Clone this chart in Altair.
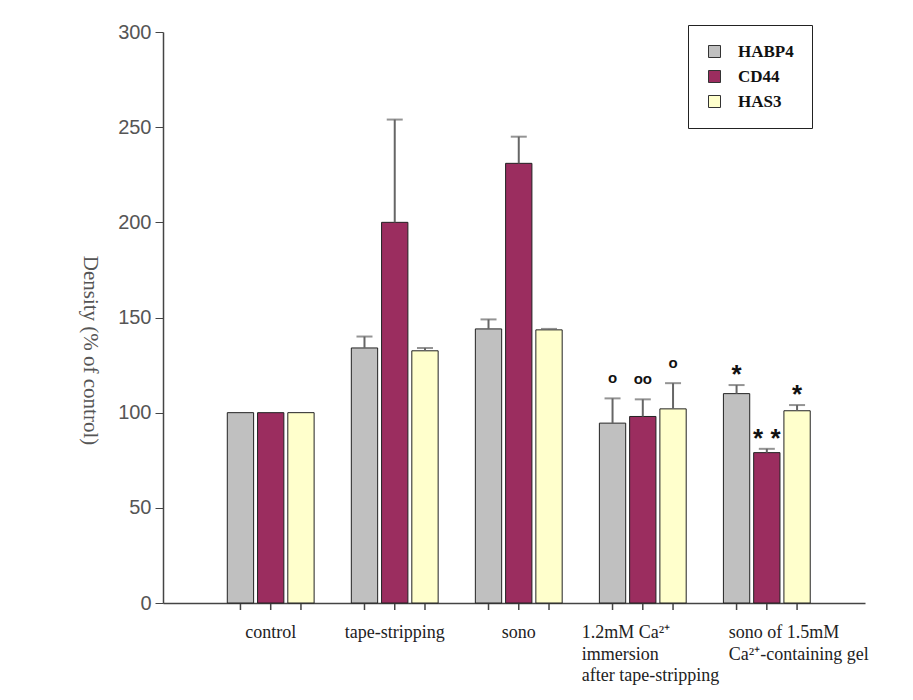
import altair as alt
import pandas as pd

groups = ["control", "tape-stripping", "sono", "1.2mM Ca", "sono 1.5mM"]
group_labels = [
    "control",
    "tape-stripping",
    "sono",
    "1.2mM Ca²⁺\nimmersion\nafter tape-stripping",
    "sono of 1.5mM\n Ca²⁺-containing gel",
]
series = ["HABP4", "CD44", "HAS3"]
colors = ["#c0c0c0", "#9b2d5f", "#ffffcc"]

habp4 = [100, 134, 144, 94.5, 110]
habp4_err = [0, 6, 5, 13, 4.5]
cd44 = [100, 200, 231, 98, 79]
cd44_err = [0, 54, 14, 9, 2]
has3 = [100, 132.5, 143.5, 102, 101]
has3_err = [0, 1.5, 0.5, 13.5, 3]

marks_12 = ["o", "oo", "o"]
marks_15 = ["*", "* *", "*"]

rows = []
for vals, errs, s in [(habp4, habp4_err, "HABP4"), (cd44, cd44_err, "CD44"), (has3, has3_err, "HAS3")]:
    for g, v, e in zip(groups, vals, errs):
        rows.append({"group": g, "series": s, "value": v, "err": e, "upper": v + e})
df = pd.DataFrame(rows)

ann_rows = []
for s, m in zip(series, marks_12):
    r = df[(df.group == "1.2mM Ca") & (df.series == s)].iloc[0]
    ann_rows.append({"group": "1.2mM Ca", "series": s, "upper": r.upper, "mark": m, "kind": "o"})
for s, m in zip(series, marks_15):
    r = df[(df.group == "sono 1.5mM") & (df.series == s)].iloc[0]
    ann_rows.append({"group": "sono 1.5mM", "series": s, "upper": r.upper, "mark": m, "kind": "star"})
ann = pd.DataFrame(ann_rows)

lab = pd.DataFrame({"group": groups, "label": group_labels})

W, H = 702, 571

xscale = alt.Scale(domain=groups, paddingInner=0.3, paddingOuter=0.48, align=0.54)
xoff = alt.Scale(domain=series, paddingInner=0.13, paddingOuter=0)
yscale = alt.Scale(domain=[0, 300])

base = alt.Chart(df)

bars = base.mark_bar(stroke="#222222", strokeWidth=1).encode(
    x=alt.X("group:N", scale=xscale, sort=groups,
            axis=alt.Axis(labels=False, ticks=False, title=None, domainColor="#444", domainWidth=1.5)),
    xOffset=alt.XOffset("series:N", scale=xoff, sort=series),
    y=alt.Y("value:Q", scale=yscale,
            axis=alt.Axis(values=[0, 50, 100, 150, 200, 250, 300], title="Density (% of control)",
                          titleAngle=90, titleFont="Liberation Serif", titleFontSize=21,
                          titleFontWeight="normal", titleColor="#555", titleX=-74, titleY=318,
                          titleAlign="center", titleBaseline="middle",
                          labelFont="Liberation Sans", labelFontSize=20, labelColor="#555",
                          labelPadding=4, tickSize=8, tickColor="#444", domainColor="#444",
                          domainWidth=1.5, grid=False)),
    color=alt.Color("series:N", scale=alt.Scale(domain=series, range=colors), sort=series,
                    legend=alt.Legend(orient="none", legendX=525, legendY=-7, title=None,
                                      strokeColor="#222", padding=18, symbolType="square",
                                      symbolSize=144, symbolStrokeColor="#333", symbolStrokeWidth=1,
                                      labelFont="Liberation Serif", labelFontWeight="bold",
                                      labelFontSize=17, labelColor="#111", labelOffset=15,
                                      rowPadding=7, labelExpr="datum.label + '  '")),
)

err_df = df[df.err > 0]
err_base = alt.Chart(err_df)
err_rule = err_base.mark_rule(color="#666", strokeWidth=2).encode(
    x=alt.X("group:N", scale=xscale, sort=groups),
    xOffset=alt.XOffset("series:N", scale=xoff, sort=series),
    y=alt.Y("value:Q", scale=yscale),
    y2="upper:Q",
)
err_cap = err_base.mark_tick(color="#666", thickness=2, size=16, orient="horizontal").encode(
    x=alt.X("group:N", scale=xscale, sort=groups),
    xOffset=alt.XOffset("series:N", scale=xoff, sort=series),
    y=alt.Y("upper:Q", scale=yscale),
)

xticks = base.mark_rule(color="#444", strokeWidth=1.5).encode(
    x=alt.X("group:N", scale=xscale, sort=groups),
    xOffset=alt.XOffset("series:N", scale=xoff, sort=series),
    y=alt.value(H),
    y2=alt.value(H + 7),
)

ann_o = alt.Chart(ann).transform_filter("datum.kind == 'o'").mark_text(
    font="Liberation Sans", fontWeight="bold", fontSize=15, dy=-20, baseline="middle", color="#111"
).encode(
    x=alt.X("group:N", scale=xscale, sort=groups),
    xOffset=alt.XOffset("series:N", scale=xoff, sort=series),
    y=alt.Y("upper:Q", scale=yscale),
    text="mark:N",
)
ann_s = alt.Chart(ann).transform_filter("datum.kind == 'star'").mark_text(
    font="Liberation Sans", fontWeight="bold", fontSize=26, dy=-10, baseline="middle", color="#111"
).encode(
    x=alt.X("group:N", scale=xscale, sort=groups),
    xOffset=alt.XOffset("series:N", scale=xoff, sort=series),
    y=alt.Y("upper:Q", scale=yscale),
    text="mark:N",
)

lab_base = alt.Chart(lab)
lab_center = lab_base.transform_filter(
    alt.FieldOneOfPredicate(field="group", oneOf=groups[:3])
).mark_text(font="Liberation Serif", fontSize=18, color="#222", align="center",
            baseline="middle", lineBreak="\n", lineHeight=21.5).encode(
    x=alt.X("group:N", scale=xscale, sort=groups),
    y=alt.value(H + 30),
    text="label:N",
)
lab_12 = lab_base.transform_filter(
    alt.FieldEqualPredicate(field="group", equal=groups[3])
).mark_text(font="Liberation Serif", fontSize=18, color="#222", align="left",
            baseline="middle", lineBreak="\n", lineHeight=21.5, dx=-61).encode(
    x=alt.X("group:N", scale=xscale, sort=groups),
    y=alt.value(H + 30),
    text="label:N",
)
lab_15 = lab_base.transform_filter(
    alt.FieldEqualPredicate(field="group", equal=groups[4])
).mark_text(font="Liberation Serif", fontSize=18, color="#222", align="left",
            baseline="middle", lineBreak="\n", lineHeight=21.5, dx=-38).encode(
    x=alt.X("group:N", scale=xscale, sort=groups),
    y=alt.value(H + 30),
    text="label:N",
)

chart = alt.layer(xticks, bars, err_rule, err_cap, ann_o, ann_s, lab_center, lab_12, lab_15).properties(
    width=W, height=H,
    padding={"left": 155, "top": 24, "right": 30, "bottom": 95},
    autosize=alt.AutoSizeParams(type="none"),
    background="white",
).configure_view(stroke=None)

chart.save("out.html", embed_options={"renderer": "svg", "actions": False})
